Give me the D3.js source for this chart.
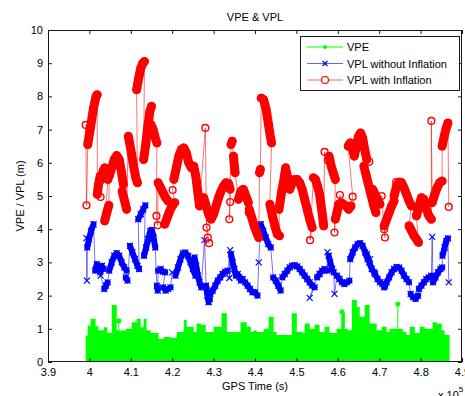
<!DOCTYPE html>
<html>
<head>
<meta charset="utf-8">
<script src="https://cdn.jsdelivr.net/npm/d3@7"></script>
<style>
  body { margin: 0; background: #fff; }
  svg text { font-family: "Liberation Sans", Arial, Helvetica, sans-serif; font-size: 11px; fill: #000; }
</style>
</head>
<body>
<div id="chart"></div>
<script>
// GPS time in units of 1e5 s, error / protection level in metres
const xTicks = [3.9, 4.0, 4.1, 4.2, 4.3, 4.4, 4.5, 4.6, 4.7, 4.8, 4.9]
const yTicks = [0, 1, 2, 3, 4, 5, 6, 7, 8, 9, 10]
const seriesNames = ['VPE', 'VPL without Inflation', 'VPL with Inflation']

// VPE: upper envelope of the noisy error trace, [time, metres] step starts
const vpe = [
  [3.991, 0.8], [3.996, 1.1], [4.003, 1.3], [4.015, 1.08], [4.022, 0.96], [4.035, 1.05],
  [4.043, 0.87], [4.054, 1.72], [4.066, 0.96], [4.071, 0.95], [4.088, 1.0], [4.102, 1.2],
  [4.114, 1.3], [4.124, 1.05], [4.131, 1.3], [4.138, 0.96], [4.148, 0.87], [4.167, 0.69],
  [4.179, 0.75], [4.196, 0.73], [4.211, 0.9], [4.228, 1.27], [4.235, 1.06], [4.252, 0.9],
  [4.259, 1.16], [4.269, 1.12], [4.281, 0.9], [4.300, 1.06], [4.319, 1.47], [4.332, 0.9],
  [4.365, 1.2], [4.380, 1.06], [4.390, 0.9], [4.397, 0.96], [4.404, 0.9], [4.421, 1.0],
  [4.433, 1.36], [4.445, 0.9], [4.452, 0.81], [4.489, 1.47], [4.501, 0.9], [4.515, 0.87],
  [4.520, 1.16], [4.532, 1.0], [4.544, 1.12], [4.556, 0.9], [4.568, 1.06], [4.580, 0.87],
  [4.597, 1.0], [4.609, 1.5], [4.617, 1.0], [4.624, 0.96], [4.634, 1.87], [4.646, 1.66],
  [4.653, 1.36], [4.665, 1.72], [4.677, 1.16], [4.694, 0.96], [4.706, 1.06], [4.718, 0.9],
  [4.725, 1.0], [4.757, 0.9], [4.766, 0.81], [4.774, 1.06], [4.786, 0.87], [4.798, 1.06],
  [4.810, 1.0], [4.829, 1.2], [4.839, 1.16], [4.851, 0.96], [4.858, 0.81], [4.870, 0.81],
]
// isolated VPE samples standing above the envelope
const vpeSpikes = [[4.071, 1.24], [4.610, 1.51], [4.745, 1.75]]

// VPL without inflation, continuous runs of [time, metres]
const vplNoInflation = [
  [[3.993, 3.73]],
  [[3.994, 2.45]],
  [[3.995, 3.45], [3.999, 3.7], [4.004, 3.95], [4.010, 4.15]],
  [[4.014, 2.75], [4.018, 2.95], [4.022, 2.85], [4.026, 2.7], [4.030, 2.9], [4.034, 2.8]],
  [[4.027, 2.6]],
  [[4.036, 2.2], [4.040, 2.3], [4.044, 2.4]],
  [[4.048, 2.75], [4.054, 3.0], [4.060, 3.2], [4.066, 3.28], [4.072, 3.2], [4.078, 3.0], [4.084, 2.85], [4.090, 2.75]],
  [[4.088, 2.55], [4.092, 2.45]],
  [[4.098, 3.5], [4.104, 3.3], [4.110, 3.1], [4.116, 2.9], [4.120, 2.8]],
  [[4.118, 4.3], [4.124, 4.45], [4.130, 4.6], [4.135, 4.72]],
  [[4.132, 3.2], [4.137, 3.45], [4.142, 3.7], [4.147, 3.95], [4.151, 3.98], [4.155, 3.75], [4.159, 3.45]],
  [[4.163, 2.3], [4.165, 2.15]],
  [[4.166, 2.75], [4.172, 2.8], [4.178, 2.72], [4.183, 2.7]],
  [[4.178, 2.25], [4.184, 2.15], [4.190, 2.2], [4.196, 2.25]],
  [[4.200, 2.7]],
  [[4.208, 2.6], [4.214, 2.85], [4.220, 3.1], [4.226, 3.28], [4.232, 3.3], [4.238, 3.2], [4.244, 3.0], [4.250, 2.8], [4.256, 2.6]],
  [[4.254, 3.15], [4.258, 2.9], [4.262, 2.6], [4.266, 2.4], [4.270, 2.25]],
  [[4.278, 3.67]],
  [[4.282, 2.3], [4.285, 2.0], [4.288, 1.8], [4.291, 1.9]],
  [[4.292, 2.05], [4.298, 2.15], [4.304, 2.3], [4.310, 2.45], [4.316, 2.55], [4.322, 2.65], [4.328, 2.72], [4.334, 2.75]],
  [[4.340, 3.37]],
  [[4.338, 2.53]],
  [[4.342, 3.25], [4.346, 3.0], [4.350, 2.8], [4.354, 2.6]],
  [[4.358, 2.65], [4.362, 2.55], [4.366, 2.45], [4.370, 2.5]],
  [[4.376, 2.4], [4.382, 2.3], [4.388, 2.2], [4.394, 2.1], [4.400, 2.1], [4.406, 2.0]],
  [[4.409, 3.0]],
  [[4.414, 4.15], [4.420, 3.95], [4.426, 3.75], [4.432, 3.55], [4.438, 3.45]],
  [[4.444, 2.55], [4.450, 2.45], [4.456, 2.3], [4.462, 2.15]],
  [[4.466, 2.55], [4.472, 2.65], [4.478, 2.75], [4.484, 2.85], [4.490, 2.9], [4.496, 2.92], [4.502, 2.88], [4.508, 2.8], [4.514, 2.7], [4.520, 2.6], [4.526, 2.5], [4.532, 2.4], [4.538, 2.3], [4.544, 2.25]],
  [[4.532, 1.93]],
  [[4.550, 2.55], [4.556, 2.65], [4.562, 2.75], [4.568, 2.8], [4.574, 2.75]],
  [[4.575, 3.31]],
  [[4.578, 3.2], [4.582, 3.0], [4.586, 2.8], [4.590, 2.7]],
  [[4.592, 2.05]],
  [[4.598, 2.6], [4.604, 2.5], [4.610, 2.4], [4.616, 2.35], [4.622, 2.4], [4.628, 2.45]],
  [[4.630, 3.1], [4.636, 3.3], [4.642, 3.45], [4.648, 3.55], [4.654, 3.58], [4.660, 3.5], [4.666, 3.3], [4.672, 3.1]],
  [[4.670, 3.25], [4.676, 3.0], [4.682, 2.8], [4.688, 2.7]],
  [[4.678, 3.1]],
  [[4.690, 2.65], [4.696, 2.5], [4.702, 2.4], [4.708, 2.35], [4.714, 2.3]],
  [[4.712, 2.25], [4.718, 2.4], [4.724, 2.55], [4.730, 2.7], [4.736, 2.8], [4.742, 2.86], [4.748, 2.85], [4.754, 2.75], [4.760, 2.6], [4.766, 2.5], [4.772, 2.4]],
  [[4.776, 2.05], [4.782, 1.95], [4.788, 1.9], [4.794, 2.0]],
  [[4.796, 2.2], [4.802, 2.3], [4.808, 2.4], [4.814, 2.5], [4.820, 2.55], [4.826, 2.6]],
  [[4.828, 3.77]],
  [[4.830, 2.4], [4.836, 2.55], [4.842, 2.7], [4.848, 2.8], [4.852, 2.85]],
  [[4.853, 3.2], [4.858, 3.45], [4.862, 3.65], [4.866, 3.72]],
  [[4.868, 2.4]],
]

// VPL with inflation, continuous runs of [time, metres]
const vplInflation = [
  [[3.991, 7.14]],
  [[3.993, 4.72]],
  [[3.996, 6.55], [4.003, 7.1], [4.010, 7.65], [4.016, 8.0], [4.019, 8.05]],
  [[4.019, 5.05], [4.022, 5.35], [4.026, 5.6]],
  [[4.027, 4.97]],
  [[4.029, 5.5], [4.033, 5.75], [4.037, 5.85], [4.041, 5.6], [4.045, 5.5]],
  [[4.037, 4.25], [4.042, 4.5], [4.047, 4.72]],
  [[4.048, 5.6], [4.054, 5.85], [4.060, 6.1], [4.066, 6.22], [4.072, 6.1], [4.077, 5.75], [4.082, 5.35]],
  [[4.079, 5.15], [4.084, 4.9], [4.090, 4.6]],
  [[4.094, 6.8], [4.100, 6.4], [4.106, 5.95], [4.112, 5.55], [4.116, 5.4]],
  [[4.114, 8.2], [4.119, 8.55], [4.124, 8.85], [4.129, 9.0], [4.133, 9.05]],
  [[4.131, 6.1], [4.136, 6.55], [4.141, 7.1], [4.146, 7.55], [4.150, 7.7]],
  [[4.149, 7.15], [4.154, 7.0], [4.159, 6.75], [4.163, 6.6]],
  [[4.162, 4.4]],
  [[4.165, 4.12]],
  [[4.166, 5.4], [4.172, 5.25], [4.178, 5.1], [4.184, 4.95], [4.190, 4.85]],
  [[4.182, 4.15], [4.188, 4.35], [4.194, 4.55], [4.200, 4.7], [4.206, 4.8]],
  [[4.201, 5.18]],
  [[4.204, 5.5], [4.210, 5.85], [4.216, 6.2], [4.222, 6.4], [4.228, 6.45], [4.234, 6.3], [4.240, 6.0], [4.246, 5.85], [4.252, 5.9], [4.257, 5.6], [4.262, 5.1], [4.266, 4.7]],
  [[4.280, 7.05]],
  [[4.283, 4.05]],
  [[4.286, 3.75]],
  [[4.289, 3.58]],
  [[4.276, 4.95], [4.282, 4.7], [4.288, 4.45], [4.294, 4.3], [4.300, 4.45], [4.306, 4.7], [4.312, 4.95], [4.318, 5.15], [4.324, 5.3], [4.330, 5.4], [4.336, 5.38], [4.340, 5.2]],
  [[4.340, 4.82]],
  [[4.338, 4.3]],
  [[4.342, 6.55], [4.345, 6.65]],
  [[4.348, 6.2], [4.350, 5.9], [4.352, 5.7]],
  [[4.360, 4.9], [4.366, 5.15], [4.372, 5.2], [4.378, 5.0], [4.384, 4.8]],
  [[4.385, 4.5]],
  [[4.386, 4.6], [4.392, 4.35], [4.398, 4.1], [4.404, 3.9], [4.409, 3.75]],
  [[4.411, 5.7], [4.413, 5.8]],
  [[4.415, 7.95], [4.421, 7.9], [4.427, 7.6], [4.432, 7.2], [4.437, 6.8], [4.440, 6.6]],
  [[4.436, 4.75], [4.442, 4.4], [4.448, 4.1], [4.454, 3.85], [4.459, 3.8]],
  [[4.458, 4.6], [4.464, 5.1], [4.470, 5.5], [4.474, 5.85], [4.478, 5.6], [4.482, 5.3]],
  [[4.484, 5.2], [4.490, 5.4], [4.496, 5.5], [4.502, 5.5], [4.508, 5.4], [4.514, 5.2], [4.520, 4.9], [4.526, 4.6], [4.532, 4.3], [4.538, 4.05]],
  [[4.533, 3.67]],
  [[4.541, 5.55], [4.546, 5.5], [4.551, 5.3], [4.556, 5.05], [4.561, 4.6], [4.566, 4.1]],
  [[4.568, 6.33]],
  [[4.576, 6.08]],
  [[4.579, 6.2], [4.584, 5.9], [4.589, 5.7], [4.594, 5.5]],
  [[4.592, 3.9]],
  [[4.594, 4.3], [4.598, 4.5], [4.602, 4.75]],
  [[4.605, 5.03]],
  [[4.608, 4.8], [4.614, 4.75], [4.620, 4.7], [4.626, 4.6], [4.632, 4.7]],
  [[4.636, 4.98]],
  [[4.625, 6.5], [4.630, 6.6], [4.635, 6.45], [4.640, 6.2], [4.645, 6.5], [4.650, 6.8], [4.655, 6.9], [4.660, 6.75], [4.665, 6.4], [4.670, 6.1]],
  [[4.676, 6.03]],
  [[4.663, 5.9], [4.669, 5.6], [4.675, 5.3], [4.681, 5.0], [4.687, 4.7], [4.692, 4.5]],
  [[4.680, 5.08]],
  [[4.684, 5.2], [4.690, 5.05], [4.696, 4.9], [4.702, 4.75]],
  [[4.706, 5.0]],
  [[4.712, 4.0]],
  [[4.714, 3.75]],
  [[4.712, 4.1], [4.718, 4.3], [4.724, 4.5], [4.730, 4.7], [4.736, 4.85]],
  [[4.741, 5.42]],
  [[4.736, 5.0], [4.742, 5.3], [4.748, 5.42], [4.754, 5.4], [4.760, 5.25], [4.766, 5.05], [4.772, 4.85], [4.778, 4.7]],
  [[4.772, 4.1], [4.778, 3.95], [4.784, 3.8], [4.790, 3.7], [4.795, 3.6]],
  [[4.790, 4.4], [4.796, 4.7], [4.802, 4.95], [4.808, 4.9], [4.814, 4.6], [4.820, 4.4], [4.826, 4.3]],
  [[4.826, 7.26]],
  [[4.828, 4.8], [4.834, 5.05], [4.840, 5.25], [4.846, 5.4], [4.852, 5.45]],
  [[4.852, 6.5], [4.857, 6.8], [4.862, 7.05], [4.866, 7.2]],
  [[4.868, 4.67]],
]

const colors = {vpe: '#00ff00', noInf: '#0000ff', inf: '#ff0000', axis: '#1a1a1a'}
const chart = {width: 465, height: 396, left: 48, right: 462, top: 30, bottom: 362, tick: 4}

const svg = d3.select('#chart').append('svg')
  .attr('width', chart.width)
  .attr('height', chart.height)

const x = d3.scaleLinear().domain([3.9, 4.9]).range([chart.left, chart.right])
const y = d3.scaleLinear().domain([0, 10]).range([chart.bottom, chart.top])
const fmt = (d) => String(+d.toFixed(1))

svg.append('defs').append('clipPath').attr('id', 'plot')
  .append('rect')
  .attr('x', chart.left).attr('y', chart.top)
  .attr('width', chart.right - chart.left).attr('height', chart.bottom - chart.top)

const plot = svg.append('g').attr('clip-path', 'url(#plot)')

// VPE: filled envelope down to zero plus the lone spikes
plot.append('path')
  .datum(vpe)
  .attr('fill', colors.vpe)
  .attr('d', d3.area().curve(d3.curveStepAfter)
    .x((d) => x(d[0])).y0(y(0)).y1((d) => y(d[1])))

plot.selectAll('line.spike')
  .data(vpeSpikes)
  .enter()
    .append('line')
    .attr('class', 'spike')
    .attr('x1', (d) => x(d[0])).attr('x2', (d) => x(d[0]))
    .attr('y1', y(0)).attr('y2', (d) => y(d[1]))
    .attr('stroke', colors.vpe).attr('stroke-width', 1)

plot.selectAll('circle.spike')
  .data(vpeSpikes)
  .enter()
    .append('circle')
    .attr('class', 'spike')
    .attr('cx', (d) => x(d[0])).attr('cy', (d) => y(d[1]))
    .attr('r', 2.5).attr('fill', colors.vpe)

const line = d3.line().x((d) => x(d[0])).y((d) => y(d[1]))

const drawVpl = (runs, color, bandWidth, marker) => {
  const g = plot.append('g')
  // thin connector through every sample, as the plotted trace jumps between runs
  g.append('path')
    .datum(runs.flat())
    .attr('fill', 'none')
    .attr('stroke', color)
    .attr('stroke-opacity', 0.55)
    .attr('stroke-width', 1)
    .attr('d', line)

  // dense markers merge into a solid band along each run
  g.selectAll('path.run')
    .data(runs.filter((r) => r.length > 1))
    .enter()
      .append('path')
      .attr('class', 'run')
      .attr('fill', 'none')
      .attr('stroke', color)
      .attr('stroke-width', bandWidth)
      .attr('stroke-linecap', 'round')
      .attr('stroke-linejoin', 'round')
      .attr('d', line)

  const pts = runs.flat()
  if (marker === 'o') {
    g.selectAll('circle')
      .data(pts)
      .enter()
        .append('circle')
        .attr('cx', (d) => x(d[0])).attr('cy', (d) => y(d[1]))
        .attr('r', 3.4)
        .attr('fill', 'none').attr('stroke', color).attr('stroke-width', 1.4)
  } else {
    g.selectAll('path.mk')
      .data(pts)
      .enter()
        .append('path')
        .attr('class', 'mk')
        .attr('d', (d) => {
          const cx = x(d[0]), cy = y(d[1]), s = 3
          return `M${cx - s},${cy - s}L${cx + s},${cy + s}M${cx - s},${cy + s}L${cx + s},${cy - s}`
        })
        .attr('stroke', color).attr('stroke-width', 1.2)
  }
}

drawVpl(vplNoInflation, colors.noInf, 6, 'x')
drawVpl(vplInflation, colors.inf, 9, 'o')

// axes: MATLAB style box with inward ticks on all four sides
const axes = svg.append('g')
axes.append('g')
  .attr('transform', `translate(0,${chart.bottom})`)
  .call(d3.axisBottom(x).tickValues(xTicks).tickFormat(fmt).tickSize(-chart.tick).tickSizeOuter(0).tickPadding(6))
axes.append('g')
  .attr('transform', `translate(0,${chart.top})`)
  .call(d3.axisTop(x).tickValues(xTicks).tickFormat('').tickSize(-chart.tick).tickSizeOuter(0))
axes.append('g')
  .attr('transform', `translate(${chart.left},0)`)
  .call(d3.axisLeft(y).tickValues(yTicks).tickFormat(fmt).tickSize(-chart.tick).tickSizeOuter(0).tickPadding(5))
axes.append('g')
  .attr('transform', `translate(${chart.right},0)`)
  .call(d3.axisRight(y).tickValues(yTicks).tickFormat('').tickSize(-chart.tick).tickSizeOuter(0))
axes.selectAll('.domain').remove()
axes.selectAll('.tick line').attr('stroke', colors.axis)
axes.selectAll('.tick text').attr('fill', '#000').style('font-size', '11px')
  .style('font-family', '"Liberation Sans", Arial, sans-serif')

svg.append('rect')
  .attr('x', chart.left + 0.5).attr('y', chart.top + 0.5)
  .attr('width', chart.right - chart.left - 1).attr('height', chart.bottom - chart.top - 1)
  .attr('fill', 'none').attr('stroke', colors.axis).attr('stroke-width', 1)

// titles
svg.append('text')
  .attr('x', (chart.left + chart.right) / 2).attr('y', 21)
  .attr('text-anchor', 'middle')
  .text('VPE & VPL')
svg.append('text')
  .attr('x', (chart.left + chart.right) / 2).attr('y', 390)
  .attr('text-anchor', 'middle')
  .text('GPS Time (s)')
svg.append('text')
  .attr('transform', `translate(24,${(chart.top + chart.bottom) / 2}) rotate(-90)`)
  .attr('text-anchor', 'middle')
  .text('VPE / VPL (m)')
const expo = svg.append('text').attr('x', 438).attr('y', 399)
expo.append('tspan').text('x 10')
expo.append('tspan').attr('dy', -7).style('font-size', '8px').text('5')

// legend
const legend = svg.append('g')
legend.append('rect')
  .attr('x', 300.5).attr('y', 36.5).attr('width', 159).attr('height', 54)
  .attr('fill', '#fff').attr('stroke', colors.axis)
const rows = legend.selectAll('g.row')
  .data(seriesNames)
  .enter()
    .append('g')
    .attr('class', 'row')
    .attr('transform', (d, i) => `translate(0,${47 + i * 16.5})`)
rows.append('line')
  .attr('x1', 307).attr('x2', 343)
  .attr('stroke', (d, i) => [colors.vpe, colors.noInf, colors.inf][i])
  .attr('stroke-opacity', (d, i) => i === 0 ? 1 : 0.6)
rows.append('text')
  .attr('x', 347).attr('y', 4)
  .text((d) => d)
rows.filter((d, i) => i === 0).append('circle')
  .attr('cx', 325).attr('r', 2).attr('fill', colors.vpe)
rows.filter((d, i) => i === 1).append('path')
  .attr('d', 'M322.5,-2.5L327.5,2.5M322.5,2.5L327.5,-2.5')
  .attr('stroke', colors.noInf).attr('stroke-width', 1.2)
rows.filter((d, i) => i === 2).append('circle')
  .attr('cx', 325).attr('r', 3.5).attr('fill', '#fff')
  .attr('stroke', colors.inf).attr('stroke-width', 1.2)
</script>
</body>
</html>
